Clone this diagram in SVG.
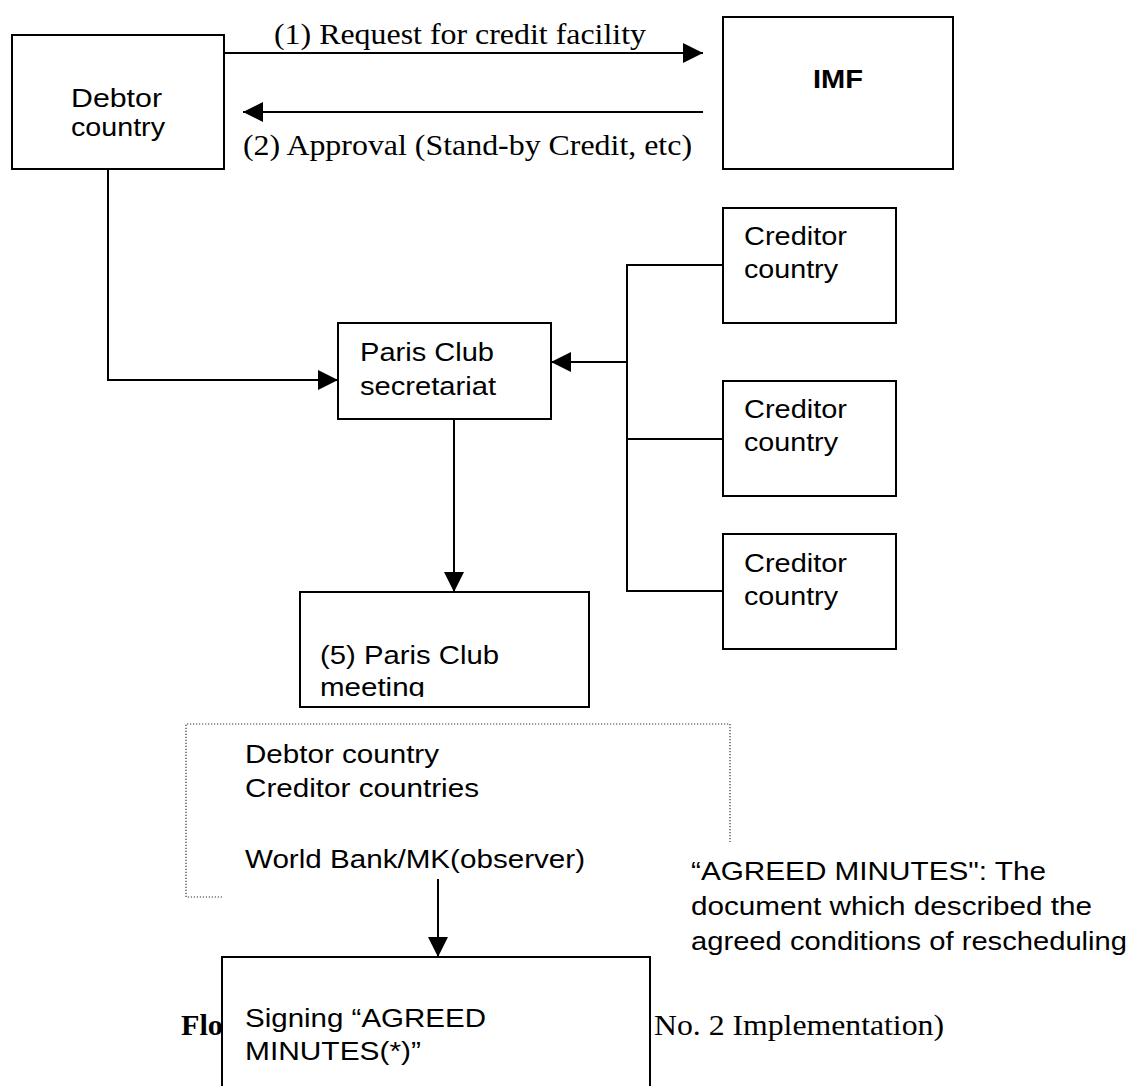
<svg xmlns="http://www.w3.org/2000/svg" width="1128" height="1086" viewBox="0 0 1128 1086">
<style>
.box{fill:#fff;stroke:#000;stroke-width:2}
.t{font-family:"Liberation Sans",Arial,sans-serif;font-size:26px;fill:#000}
.b{font-weight:bold}
.s{font-family:"Liberation Serif","Times New Roman",serif;font-size:29px;fill:#000}
.ln{fill:none;stroke:#000;stroke-width:2}
.arr{fill:none;stroke:#000;stroke-width:2;marker-end:url(#ah)}
.dot{fill:none;stroke:#333;stroke-width:1.2;stroke-dasharray:1.2 1.8}
</style>
<defs>
<marker id="ah" viewBox="0 0 20 20" refX="20" refY="10" markerWidth="20" markerHeight="20" markerUnits="userSpaceOnUse" orient="auto"><path d="M0,0 L20,10 L0,20 z" fill="#000"/></marker>
<clipPath id="mclip"><rect x="300" y="592" width="289" height="105"/></clipPath>
</defs>
<rect width="1128" height="1086" fill="#fff"/>

<g id="caption">
<text class="s b" x="181" y="1035" textLength="42" lengthAdjust="spacingAndGlyphs">Flo</text>
<text class="s" x="654" y="1035" textLength="290" lengthAdjust="spacingAndGlyphs">No. 2 Implementation)</text>
</g>

<g id="connectors">
<path class="arr" d="M224,53 H703"/>
<path class="arr" d="M703,112 H243"/>
<path class="arr" d="M108,169 V380 H338"/>
<path class="ln" d="M723,265 H627 V591 H723 M627,439 H723"/>
<path class="arr" d="M627,362 H551"/>
<path class="arr" d="M454,419 V592"/>
<path class="arr" d="M438,879 V957"/>
</g>

<g id="label1"><text class="s" x="274" y="44" textLength="372" lengthAdjust="spacingAndGlyphs">(1) Request for credit facility</text></g>
<g id="label2"><text class="s" x="243" y="155" textLength="449" lengthAdjust="spacingAndGlyphs">(2) Approval (Stand-by Credit, etc)</text></g>

<g id="debtor">
<rect class="box" x="12" y="35" width="212" height="134"/>
<text class="t" x="71" y="107" textLength="91" lengthAdjust="spacingAndGlyphs">Debtor</text>
<text class="t" x="71" y="136" textLength="94" lengthAdjust="spacingAndGlyphs">country</text>
</g>

<g id="imf">
<rect class="box" x="723" y="17" width="230" height="152"/>
<text class="t b" x="813" y="88" textLength="50" lengthAdjust="spacingAndGlyphs">IMF</text>
</g>

<g id="secretariat">
<rect class="box" x="338" y="323" width="213" height="96"/>
<text class="t" x="360" y="361" textLength="134" lengthAdjust="spacingAndGlyphs">Paris Club</text>
<text class="t" x="360" y="395" textLength="136" lengthAdjust="spacingAndGlyphs">secretariat</text>
</g>

<g id="creditor1">
<rect class="box" x="723" y="208" width="173" height="115"/>
<text class="t" x="744" y="245" textLength="103" lengthAdjust="spacingAndGlyphs">Creditor</text>
<text class="t" x="744" y="278" textLength="94" lengthAdjust="spacingAndGlyphs">country</text>
</g>
<g id="creditor2">
<rect class="box" x="723" y="381" width="173" height="115"/>
<text class="t" x="744" y="418" textLength="103" lengthAdjust="spacingAndGlyphs">Creditor</text>
<text class="t" x="744" y="451" textLength="94" lengthAdjust="spacingAndGlyphs">country</text>
</g>
<g id="creditor3">
<rect class="box" x="723" y="534" width="173" height="115"/>
<text class="t" x="744" y="572" textLength="103" lengthAdjust="spacingAndGlyphs">Creditor</text>
<text class="t" x="744" y="605" textLength="94" lengthAdjust="spacingAndGlyphs">country</text>
</g>

<g id="meeting">
<rect class="box" x="300" y="592" width="289" height="115"/>
<g clip-path="url(#mclip)">
<text class="t" x="320" y="664" textLength="179" lengthAdjust="spacingAndGlyphs">(5) Paris Club</text>
<text class="t" x="320" y="696" textLength="105" lengthAdjust="spacingAndGlyphs">meeting</text>
</g>
</g>

<g id="participants">
<path class="dot" d="M222,897 H186 V724 H730 V842"/>
<text class="t" x="245" y="763" textLength="194" lengthAdjust="spacingAndGlyphs">Debtor country</text>
<text class="t" x="245" y="797" textLength="234" lengthAdjust="spacingAndGlyphs">Creditor countries</text>
<text class="t" x="245" y="868" textLength="340" lengthAdjust="spacingAndGlyphs">World Bank/MK(observer)</text>
</g>

<g id="note">
<text class="t" x="691" y="880" textLength="355" lengthAdjust="spacingAndGlyphs">“AGREED MINUTES": The</text>
<text class="t" x="691" y="915" textLength="401" lengthAdjust="spacingAndGlyphs">document which described the</text>
<text class="t" x="691" y="950" textLength="436" lengthAdjust="spacingAndGlyphs">agreed conditions of rescheduling</text>
</g>

<g id="signing">
<rect class="box" x="222" y="957" width="428" height="140"/>
<text class="t" x="245" y="1027" textLength="241" lengthAdjust="spacingAndGlyphs">Signing “AGREED</text>
<text class="t" x="245" y="1060" textLength="176" lengthAdjust="spacingAndGlyphs">MINUTES(*)”</text>
</g>
</svg>
